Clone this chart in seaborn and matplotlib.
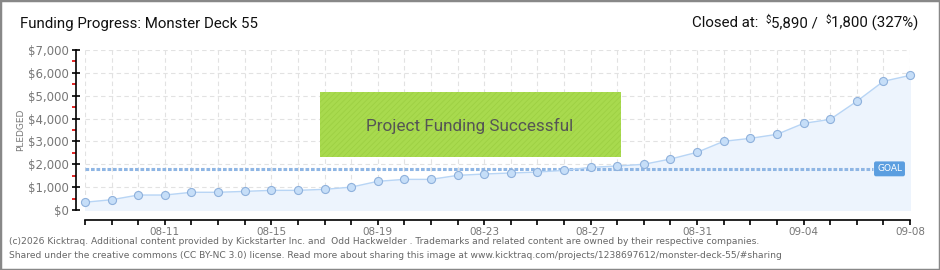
import numpy as np
import pandas as pd
import matplotlib
matplotlib.use("Agg")
import matplotlib.pyplot as plt
import matplotlib.dates as mdates
import matplotlib.ticker as mticker
from matplotlib.patches import Rectangle
import seaborn as sns

# ---- data ----
dates = pd.date_range("2026-08-08", "2026-09-08", freq="D")
pledged = [340, 450, 655, 655, 775, 775, 815, 860, 860, 905, 1000,
           1255, 1340, 1340, 1515, 1575, 1620, 1660, 1735, 1865, 1925,
           2000, 2230, 2525, 3005, 3135, 3310, 3790, 3965, 4755, 5630, 5890]
goal = 1800
title = "Funding Progress: Monster Deck 55"
closed_parts = [("Closed at:  ", False), ("\\$", True), ("5,890 /  ", False),
                ("\\$", True), ("1,800 (327%)", False)]
banner = "Project Funding Successful"
y_ticks = [0, 1000, 2000, 3000, 4000, 5000, 6000, 7000]
footer1 = ("(c)2026 Kicktraq. Additional content provided by Kickstarter Inc. and  Odd Hackwelder . "
           "Trademarks and related content are owned by their respective companies.")
footer2 = ("Shared under the creative commons (CC BY-NC 3.0) license. Read more about sharing this image "
           "at www.kicktraq.com/projects/1238697612/monster-deck-55/#sharing")

df = pd.DataFrame({"date": dates, "pledged": pledged})

sns.set_theme(style="white")
plt.rcParams["font.family"] = ["DejaVu Sans"]
plt.rcParams["hatch.linewidth"] = 0.6
title_font = ["Roboto", "DejaVu Sans"]

W, H = 940, 270
fig = plt.figure(figsize=(W / 100, H / 100), dpi=100)
fig.patch.set_facecolor("white")

def fx(px):
    return px / W

def fy(py):
    return 1 - py / H

ax = fig.add_axes([fx(85), fy(210), fx(910) - fx(85), fy(50) - fy(210)])
ax.set_facecolor("white")

line_c = "#b8d5f5"
ax.fill_between(df["date"], df["pledged"], 0, color="#edf4fd", zorder=1)
sns.lineplot(data=df, x="date", y="pledged", ax=ax, color=line_c, lw=1.0, zorder=3)
ax.plot(df["date"], df["pledged"], ls="none", marker="o", ms=5.8,
        mfc="#c6def8", mec="#8fb1dc", mew=0.8, zorder=4, clip_on=False)

# goal line
ax.axhline(goal, xmin=0, xmax=0.955, color="#8fb6e4", lw=2.2,
           ls=(0, (1.2, 0.6)), zorder=2)

ax.set_xlim(dates[0], dates[-1])
ax.set_ylim(0, 7000)

ax.set_xticks(dates)
lab_days = set(dates[3::4])
ax.set_xticklabels([d.strftime("%m-%d") if d in lab_days else "" for d in dates])
ax.set_yticks(y_ticks)
ax.set_yticklabels(["\\$" + f"{v:,}" for v in y_ticks])
ax.yaxis.set_minor_locator(mticker.MultipleLocator(500))
ax.grid(True, which="major", color="#e2e2e2", ls=(0, (4, 3)), lw=0.8)
ax.set_axisbelow(True)

for s in ["top", "right"]:
    ax.spines[s].set_visible(False)
ax.spines["left"].set_position(("outward", 6.5))
ax.spines["bottom"].set_position(("outward", 7.5))
for s in ["left", "bottom"]:
    ax.spines[s].set_color("black")
    ax.spines[s].set_linewidth(1.2)
ax.spines["bottom"].set_bounds(mdates.date2num(dates[0]), mdates.date2num(dates[-1]))

ax.tick_params(axis="y", which="major", direction="inout", length=6, width=1.2,
               color="black", labelsize=8.5, labelcolor="#777777", pad=2, left=True)
ax.tick_params(axis="y", which="minor", direction="out", length=3, width=1.2,
               color="#dd0000", left=True)
ax.tick_params(axis="x", which="major", direction="out", length=3.5, width=1.2,
               color="black", labelsize=7.5, labelcolor="#777777", pad=1, bottom=True)
ax.set_xlabel("")
ax.set_ylabel("PLEDGED", fontsize=6.5, color="#777777")
ax.yaxis.set_label_coords((25 - 85) / 825, 0.5)

# GOAL tag
ax.annotate("GOAL", xy=(0.96, goal), xycoords=("axes fraction", "data"),
            fontsize=6.5, color="white", va="center", ha="left",
            bbox=dict(boxstyle="round,pad=0.25,rounding_size=0.15", fc="#5b9ee0", ec="#5b9ee0"),
            zorder=6)

# banner
fig.patches.append(Rectangle((fx(320), fy(157)), fx(621) - fx(320), fy(92) - fy(157),
                             transform=fig.transFigure, fc="#a8da4e", ec="#9dd043",
                             hatch="//////", lw=0, zorder=5))
fig.text(fx(470), fy(126), banner, ha="center", va="center", fontsize=12.3,
         color="#555555", family=title_font, zorder=6)

# title texts
fig.text(fx(20), fy(24), title, ha="left", va="center", fontsize=10.8,
         color="#111111", family=title_font)

renderer = fig.canvas.get_renderer()
pieces = []
for txt, small in closed_parts:
    if small:
        t = fig.text(0, fy(20), txt, ha="left", va="center", fontsize=7,
                     color="#111111", family=title_font)
    else:
        t = fig.text(0, fy(23), txt, ha="left", va="center", fontsize=10.8,
                     color="#111111", family=title_font)
    pieces.append(t)
widths = [p.get_window_extent(renderer).width for p in pieces]
x_cur = 918 - sum(widths)
for p, w in zip(pieces, widths):
    p.set_x(fx(x_cur))
    x_cur += w

# footer
fig.text(fx(9), fy(242), footer1, ha="left", va="center", fontsize=6.6, color="#666666")
fig.text(fx(9), fy(256), footer2, ha="left", va="center", fontsize=6.6, color="#666666")

# figure border
fig.patches.append(Rectangle((0, 0), 1, 1, transform=fig.transFigure, fill=False,
                             ec="#888888", lw=2.5, zorder=10))

fig.savefig("out.png", dpi=100, facecolor="white")
